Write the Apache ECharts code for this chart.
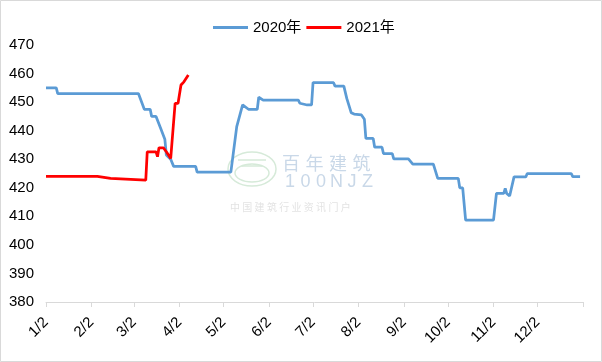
<!DOCTYPE html>
<html>
<head>
<meta charset="utf-8">
<script src="https://cdn.jsdelivr.net/npm/echarts@6/dist/echarts.min.js"></script>
<style>html,body{margin:0;padding:0;background:#fff}#c{width:602px;height:362px}</style>
</head>
<body>
<div id="c"></div>
<script>
// ---- data ----
const tickLabels = ['1/2','2/2','3/2','4/2','5/2','6/2','7/2','8/2','9/2','10/2','11/2','12/2'];
const axisEndDate = '1/2+';   // next year's 1/2 closes the axis
const seriesNames = ['2020年', '2021年'];

const dates2020 = ['1/2','1/9','1/10','3/5','3/9','3/13','3/14','3/17','3/20','3/23','3/24','3/27','3/29','4/13','4/14','5/7','5/11','5/15','5/19','5/25','5/26','5/29','6/22','6/23','6/28','7/1','7/2','7/16','7/17','7/23','7/25','7/28','7/30','8/4','8/6','8/7','8/12','8/13','8/18','8/19','8/25','8/26','9/5','9/8','9/22','9/25','10/9','10/10','10/12','10/14','11/2','11/4','11/9','11/10','11/11','11/13','11/16','11/24','11/25','12/25','12/26','12/31'];
const values2020 = [455,455,453,453,447.5,447.5,445,445,441,437,431.5,430,427.5,427.5,425.5,425.5,441.4,449,447.5,447.5,451.7,450.7,450.7,449.6,449,449,456.8,456.8,455.6,455.6,451.3,446.3,445.8,445.5,444,437.3,437.3,434.2,434.2,432,432,430.1,430.1,428.3,428.3,423.3,423.3,420,420,408.7,408.7,418,418,419.8,418,417.1,423.8,423.8,425,425,423.9,423.9];

const dates2021 = ['1/2','2/6','2/7','2/15','2/16','3/10','3/11','3/17','3/18','3/19','3/22','3/24','3/27','3/30','4/1','4/3','4/5','4/8'];
const values2021 = [424,424,423.3,423.3,422.7,422.7,432.6,432.6,430.9,434,434,432.6,430.3,449.6,449.6,456,457.1,459.5];

// watermark texts
const wmTitle = '百年建筑';
const wmCode = '100NJZ';
const wmSub = '中国建筑行业资讯门户';

// ---- helpers ----
function dayOffset(md) {
  if (md === axisEndDate) return (Date.UTC(2021,0,2) - Date.UTC(2020,0,2)) / 86400000;
  const p = md.split('/').map(Number);
  return (Date.UTC(2020, p[0]-1, p[1]) - Date.UTC(2020,0,2)) / 86400000;
}
const labelOffsets = tickLabels.map(dayOffset);
const tickOffsets = labelOffsets.concat([dayOffset(axisEndDate)]);
const labelMap = {};
labelOffsets.forEach((o,i) => labelMap[o] = tickLabels[i]);
const pairs = (ds, vs) => ds.map((d,i) => [dayOffset(d), vs[i]]);

function spacedText(str, x0, step, y, font, fill) {
  return Array.from(str).map((ch, i) => ({
    type: 'text', z: -1, silent: true, x: x0 + i*step, y: y,
    style: {text: ch, fill: fill, font: font, textAlign: 'center', textVerticalAlign: 'middle'}
  }));
}

const FONT = '"Liberation Sans", "Noto Sans CJK SC", sans-serif';
const chart = echarts.init(document.getElementById('c'), null, {renderer:'canvas'});
chart.setOption({
  animation: false,
  backgroundColor: '#fff',
  legend: {
    left: 208, top: 15,
    icon: 'rect', itemWidth: 35, itemHeight: 3, itemGap: 5,
    textStyle: {fontSize: 15, color: '#000', fontFamily: FONT},
    data: seriesNames
  },
  grid: {left: 46, right: 19, top: 45, bottom: 60},
  xAxis: {
    type: 'value', min: 0, max: dayOffset(axisEndDate),
    axisLine: {lineStyle: {color: '#d9d9d9', width: 1}},
    axisTick: {show: true, customValues: tickOffsets, length: 5, lineStyle: {color: '#d9d9d9'}},
    axisLabel: {customValues: labelOffsets, formatter: v => labelMap[v] || '', rotate: 45, fontSize: 15, color: '#000', fontFamily: FONT, margin: 18},
    splitLine: {show: false}
  },
  yAxis: {
    type: 'value', min: 380, max: 470, interval: 10,
    axisLine: {show: false}, axisTick: {show: false},
    axisLabel: {fontSize: 15, color: '#000', fontFamily: FONT, margin: 12},
    splitLine: {show: false}
  },
  series: [
    {name: seriesNames[0], type: 'line', data: pairs(dates2020, values2020), showSymbol: false, symbol: 'none',
     color: '#5B9BD5', lineStyle: {width: 2.75, color: '#5B9BD5'}, z: 2},
    {name: seriesNames[1], type: 'line', data: pairs(dates2021, values2021), showSymbol: false, symbol: 'none',
     color: '#FF0000', lineStyle: {width: 2.75, color: '#FF0000'}, z: 3}
  ],
  graphic: [
    {type: 'rect', z: -1, silent: true, shape: {x: 0.5, y: 0.5, width: 601, height: 361}, style: {fill: 'none', stroke: '#d9d9d9', lineWidth: 1}},
    {type: 'ellipse', z: -1, silent: true, shape: {cx: 252, cy: 169, rx: 24, ry: 17}, style: {fill: 'none', stroke: '#d6ead9', lineWidth: 1.5}},
    {type: 'ellipse', z: -1, silent: true, shape: {cx: 252, cy: 173, rx: 17, ry: 9}, style: {fill: 'none', stroke: '#d6ead9', lineWidth: 1.5}},
    {type: 'line', z: -1, silent: true, shape: {x1: 238, y1: 160, x2: 266, y2: 160}, style: {stroke: '#d6ead9', lineWidth: 1.5}},
    {type: 'line', z: -1, silent: true, shape: {x1: 242, y1: 166, x2: 262, y2: 166}, style: {stroke: '#d6ead9', lineWidth: 1.5}}
  ].concat(
    spacedText(wmTitle, 291, 23.5, 163.5, '18px "Noto Sans CJK SC"', '#c9d8e8'),
    spacedText(wmCode, 290, 15.5, 182, '18px "Liberation Sans"', '#c9d8e8'),
    spacedText(wmSub, 235, 12.3, 207, '10px "Noto Sans CJK SC"', '#e3e3e3')
  )
});
</script>
</body>
</html>
